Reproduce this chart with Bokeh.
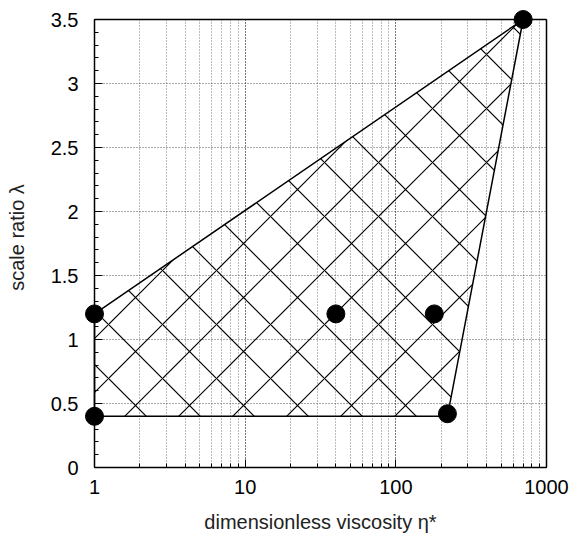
from bokeh.plotting import figure
from bokeh.models import FixedTicker, LogTicker, LogAxis, LinearAxis
from bokeh.embed import file_html
from bokeh.resources import INLINE

# Data
region_eta = [1, 1, 700, 220]
region_lam = [0.4, 1.2, 3.5, 0.4]
pt_eta = [1, 1, 40, 180, 220, 700]
pt_lam = [0.4, 1.2, 1.2, 1.2, 0.42, 3.5]
y_ticks = [0, 0.5, 1, 1.5, 2, 2.5, 3, 3.5]
y_tick_labels = ["0", "0.5", "1", "1.5", "2", "2.5", "3", "3.5"]
y_minor = [round(i * 0.1, 1) for i in range(36)]
x_ticks = [1, 10, 100, 1000]
x_tick_labels = ["1", "10", "100", "1000"]
x_lo, x_hi = 1, 1000
y_lo, y_hi = 0, 3.5

FONT = "Liberation Sans"

# frame padded a little beyond the axes so the markers are not clipped
pad_dec = 12 * 3 / 452.0
p = figure(width=572, height=541, x_axis_type="log",
           x_range=(x_lo * 10 ** (-pad_dec), x_hi * 10 ** pad_dec),
           y_range=(y_lo, y_hi + 12 / 128.0),
           output_backend="svg", toolbar_location=None,
           min_border_left=82, min_border_right=14, min_border_top=7, min_border_bottom=74)
p.background_fill_color = "white"
p.border_fill_color = "white"
p.outline_line_color = None

p.xgrid.grid_line_color = "#555555"
p.xgrid.grid_line_dash = "1 2"
p.xgrid.minor_grid_line_color = "#777777"
p.xgrid.minor_grid_line_dash = "1 2"
p.ygrid.grid_line_color = "#555555"
p.ygrid.grid_line_dash = "1 2"
p.xgrid.bounds = (x_lo, x_hi)
p.ygrid.bounds = (y_lo, y_hi)
p.xgrid.cross_bounds = (y_lo, y_hi)
p.ygrid.cross_bounds = (x_lo, x_hi)

# hatched region
p.patch(region_eta, region_lam, fill_color="white", fill_alpha=0.0,
        line_color="black", line_width=1.5,
        hatch_pattern="diagonal_cross", hatch_scale=54, hatch_color="black",
        hatch_weight=1.2, hatch_alpha=1.0)
p.scatter(pt_eta, pt_lam, size=18, color="black")

# bottom axis (sits at lambda = 0, the frame bottom)
xa = p.xaxis[0]
xa.ticker = LogTicker(num_minor_ticks=10)
xa.major_label_overrides = {t: l for t, l in zip(x_ticks, x_tick_labels)}
xa.bounds = (x_lo, x_hi)
xa.axis_line_color = "black"
xa.axis_line_width = 1.5
xa.major_tick_in = 8
xa.major_tick_out = 0
xa.minor_tick_in = 4
xa.minor_tick_out = 0
xa.major_tick_line_color = "black"
xa.minor_tick_line_color = "black"
xa.major_label_standoff = 12
xa.axis_label = "dimensionless viscosity η*"
xa.axis_label_standoff = 14

# left axis: labels only (line and ticks drawn at eta = 1 below)
ya = p.yaxis[0]
ya.ticker = FixedTicker(ticks=y_ticks)
ya.major_label_overrides = {t: l for t, l in zip(y_ticks, y_tick_labels)}
ya.axis_line_color = None
ya.major_tick_in = 0
ya.major_tick_out = 0
ya.minor_tick_in = 0
ya.minor_tick_out = 0
ya.major_tick_line_color = None
ya.minor_tick_line_color = None
ya.major_label_standoff = 4
ya.axis_label = "scale ratio λ"
ya.axis_label_standoff = 20

for ax in (xa, ya):
    ax.major_label_text_font = FONT
    ax.major_label_text_font_size = "20px"
    ax.major_label_text_color = "black"
    ax.axis_label_text_font = FONT
    ax.axis_label_text_font_size = "20px"
    ax.axis_label_text_font_style = "normal"
    ax.axis_label_text_color = "#222222"

# left axis line with ticks at eta = 1
left_major = LinearAxis(bounds=(y_lo, y_hi), fixed_location=x_lo, axis_line_color="black",
                        axis_line_width=1.5, ticker=FixedTicker(ticks=[], minor_ticks=y_ticks),
                        minor_tick_in=8, minor_tick_out=0, minor_tick_line_color="black",
                        major_label_standoff=0)
left_minor = LinearAxis(bounds=(y_lo, y_hi), fixed_location=x_lo, axis_line_color=None,
                        ticker=FixedTicker(ticks=[], minor_ticks=y_minor),
                        minor_tick_in=4, minor_tick_out=0, minor_tick_line_color="black",
                        major_label_standoff=0)
p.add_layout(left_major, "left")
p.add_layout(left_minor, "left")

# box edges (top and right)
top = LogAxis(bounds=(x_lo, x_hi), fixed_location=y_hi, axis_line_color="black",
              axis_line_width=1.5, ticker=FixedTicker(ticks=[], minor_ticks=[]),
              major_label_standoff=0)
right = LinearAxis(bounds=(y_lo, y_hi), fixed_location=x_hi, axis_line_color="black",
                   axis_line_width=1.5, ticker=FixedTicker(ticks=[], minor_ticks=[]),
                   major_label_standoff=0)
p.add_layout(top, "above")
p.add_layout(right, "right")

open("out.html", "w").write(file_html(p, INLINE))
